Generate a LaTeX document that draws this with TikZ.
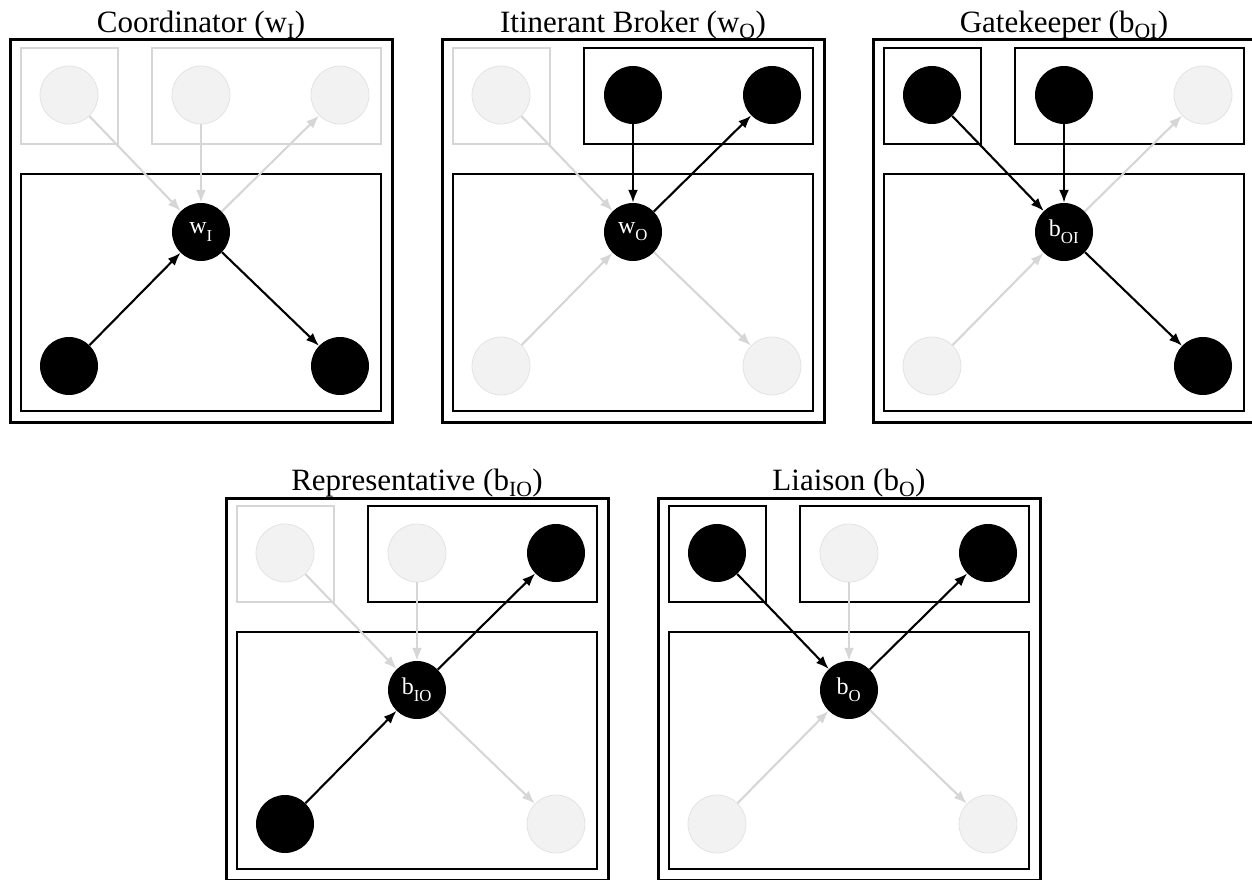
\documentclass[tikz,border=0pt]{standalone}
\usepackage{fontspec}
\setmainfont{Liberation Serif}
\usetikzlibrary{arrows.meta}
\definecolor{offfill}{HTML}{F2F2F2}
\definecolor{offline}{HTML}{E3E3E3}
\definecolor{offedge}{HTML}{D6D6D6}
\tikzset{
 onnode/.style={circle, fill=black, minimum size=58pt, inner sep=0pt, text=white, font=\fontsize{24}{24}\selectfont},
 offnode/.style={circle, fill=offfill, draw=offline, line width=0.8pt, minimum size=58pt, inner sep=0pt},
 outerbox/.style={draw=black, line width=3pt},
 onbox/.style={draw=black, line width=2.3pt},
 offbox/.style={draw=offedge, line width=2.3pt},
 onarrow/.style={draw=black, line width=2.1pt, -{Latex[length=13pt,width=10pt]}},
 offarrow/.style={draw=offedge, line width=2.1pt, -{Latex[length=13pt,width=10pt]}},
 title/.style={anchor=base, font=\fontsize{31}{31}\selectfont, inner sep=0pt},
}
\newcommand\lowsub[1]{\raisebox{-0.3ex}{\textsubscript{#1}}}
\begin{document}
\begin{tikzpicture}[x=1pt, y=-1pt]
\useasboundingbox (0,0) rectangle (1252,880);
\clip (0,0) rectangle (1252,880);

% ---------- Panel 1: Coordinator ----------
\begin{scope}[shift={(10,40)}]
\draw[outerbox] (0,0) rectangle (382,382);
\node[title] (t1) at (191,-7.5) {Coordinator (w\textsubscript{I})};
\draw[offbox] (11,8) rectangle (108,104);
\draw[offbox] (142,8) rectangle (371,104);
\draw[onbox] (11,134) rectangle (371,371);
\node[offnode] (p1tl) at (59,55) {};
\node[offnode] (p1tm) at (191,55) {};
\node[offnode] (p1tr) at (330,55) {};
\node[onnode] (p1c) at (191,192) {w\lowsub{I}};
\node[onnode] (p1bl) at (59,326) {};
\node[onnode] (p1br) at (330,326) {};
\draw[offarrow] (p1tl) -- (p1c);
\draw[offarrow] (p1tm) -- (p1c);
\draw[offarrow] (p1c) -- (p1tr);
\draw[onarrow] (p1bl) -- (p1c);
\draw[onarrow] (p1c) -- (p1br);
\end{scope}

% ---------- Panel 2: Itinerant Broker ----------
\begin{scope}[shift={(442,40)}]
\draw[outerbox] (0,0) rectangle (382,382);
\node[title] (t2) at (191,-7.5) {Itinerant Broker (w\textsubscript{O})};
\draw[offbox] (11,8) rectangle (108,104);
\draw[onbox] (142,8) rectangle (371,104);
\draw[onbox] (11,134) rectangle (371,371);
\node[offnode] (p2tl) at (59,55) {};
\node[onnode] (p2tm) at (191,55) {};
\node[onnode] (p2tr) at (330,55) {};
\node[onnode] (p2c) at (191,192) {w\lowsub{O}};
\node[offnode] (p2bl) at (59,326) {};
\node[offnode] (p2br) at (330,326) {};
\draw[offarrow] (p2tl) -- (p2c);
\draw[onarrow] (p2tm) -- (p2c);
\draw[onarrow] (p2c) -- (p2tr);
\draw[offarrow] (p2bl) -- (p2c);
\draw[offarrow] (p2c) -- (p2br);
\end{scope}

% ---------- Panel 3: Gatekeeper ----------
\begin{scope}[shift={(873,40)}]
\draw[outerbox] (0,0) rectangle (382,382);
\node[title] (t3) at (191,-7.5) {Gatekeeper (b\textsubscript{OI})};
\draw[onbox] (11,8) rectangle (108,104);
\draw[onbox] (142,8) rectangle (371,104);
\draw[onbox] (11,134) rectangle (371,371);
\node[onnode] (p3tl) at (59,55) {};
\node[onnode] (p3tm) at (191,55) {};
\node[offnode] (p3tr) at (330,55) {};
\node[onnode] (p3c) at (191,192) {b\lowsub{OI}};
\node[offnode] (p3bl) at (59,326) {};
\node[onnode] (p3br) at (330,326) {};
\draw[onarrow] (p3tl) -- (p3c);
\draw[onarrow] (p3tm) -- (p3c);
\draw[offarrow] (p3c) -- (p3tr);
\draw[offarrow] (p3bl) -- (p3c);
\draw[onarrow] (p3c) -- (p3br);
\end{scope}

% ---------- Panel 4: Representative ----------
\begin{scope}[shift={(226,498)}]
\draw[outerbox] (0,0) rectangle (382,382);
\node[title] (t4) at (191,-7.5) {Representative (b\textsubscript{IO})};
\draw[offbox] (11,8) rectangle (108,104);
\draw[onbox] (142,8) rectangle (371,104);
\draw[onbox] (11,134) rectangle (371,371);
\node[offnode] (p4tl) at (59,55) {};
\node[offnode] (p4tm) at (191,55) {};
\node[onnode] (p4tr) at (330,55) {};
\node[onnode] (p4c) at (191,192) {b\lowsub{IO}};
\node[onnode] (p4bl) at (59,326) {};
\node[offnode] (p4br) at (330,326) {};
\draw[offarrow] (p4tl) -- (p4c);
\draw[offarrow] (p4tm) -- (p4c);
\draw[onarrow] (p4c) -- (p4tr);
\draw[onarrow] (p4bl) -- (p4c);
\draw[offarrow] (p4c) -- (p4br);
\end{scope}

% ---------- Panel 5: Liaison ----------
\begin{scope}[shift={(658,498)}]
\draw[outerbox] (0,0) rectangle (382,382);
\node[title] (t5) at (191,-7.5) {Liaison (b\textsubscript{O})};
\draw[onbox] (11,8) rectangle (108,104);
\draw[onbox] (142,8) rectangle (371,104);
\draw[onbox] (11,134) rectangle (371,371);
\node[onnode] (p5tl) at (59,55) {};
\node[offnode] (p5tm) at (191,55) {};
\node[onnode] (p5tr) at (330,55) {};
\node[onnode] (p5c) at (191,192) {b\lowsub{O}};
\node[offnode] (p5bl) at (59,326) {};
\node[offnode] (p5br) at (330,326) {};
\draw[onarrow] (p5tl) -- (p5c);
\draw[offarrow] (p5tm) -- (p5c);
\draw[onarrow] (p5c) -- (p5tr);
\draw[offarrow] (p5bl) -- (p5c);
\draw[offarrow] (p5c) -- (p5br);
\end{scope}
\end{tikzpicture}
\end{document}
